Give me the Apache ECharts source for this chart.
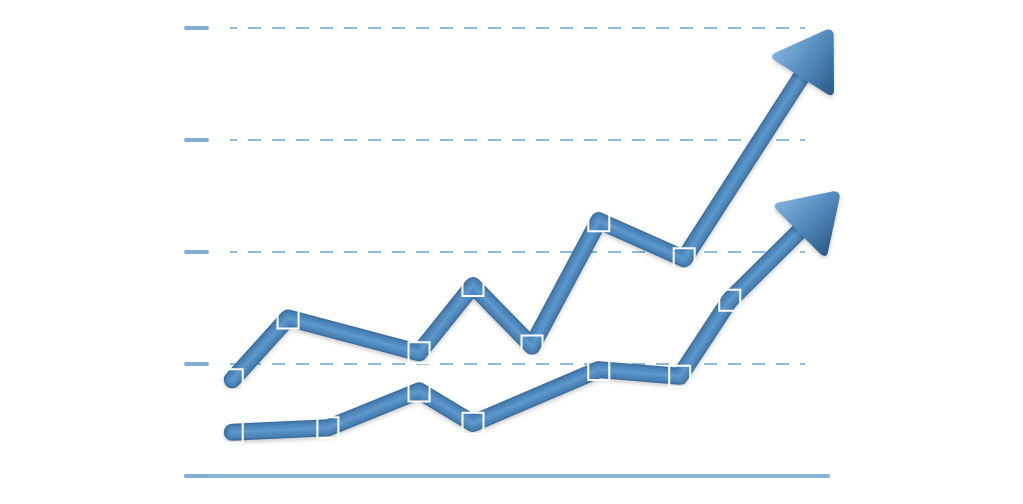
<!DOCTYPE html>
<html lang="en">
<head>
<meta charset="UTF-8">
<title>Rising lines</title>
<script src="https://cdn.jsdelivr.net/npm/echarts@6.0.0/dist/echarts.min.js"></script>
<style>html,body{margin:0;background:#fff}</style>
</head>
<body>
<div id="main" style="width:1023px;height:504px;"></div>
<script>
// x positions on a 0..100 axis, the last entry of each list is the arrow tip
const upperX = [7.2, 15.9, 36.3, 44.7, 53.9, 64.3, 77.6, 100.5];
const upperY = [0.86, 1.41, 1.10, 1.70, 1.16, 2.28, 1.94, 3.98];
const lowerX = [7.2, 22.1, 36.3, 44.7, 64.3, 76.9, 84.7, 101.6];
const lowerY = [0.39, 0.43, 0.76, 0.47, 0.95, 0.89, 1.57, 2.53];
const levels = [0, 1, 2, 3, 4];

const HEAD_LEN = 56;
const HEAD_W = 72;
// rounded triangle pointing up
const HEAD_PATH = 'path://M44,5 Q50,-3 56,5 L98,88 Q103,100 90,100 L10,100 Q-3,100 2,88 Z';
const layers = [
    {w: 17, c: '#3c6f9f'},
    {w: 14, c: '#4880b4'},
    {w: 10, c: '#4f88bc'},
    {w: 6, c: '#5690c4'},
    {w: 2, c: '#5e99cb'}
];

let myChart = echarts.init(document.getElementById('main'));

let options = {
    animation: false,
    backgroundColor: '#fff',
    grid: [
        {left: 230, right: 218, top: 28, bottom: 140},
        {left: 186, right: 195, top: 28, bottom: 28}
    ],
    xAxis: [
        {gridIndex: 0, type: 'value', min: 0, max: 100, show: false},
        {
            gridIndex: 1, type: 'value', min: 0, max: 100,
            axisLine: {show: true, lineStyle: {color: '#88b4d8', width: 4}},
            axisTick: {show: false}, axisLabel: {show: false}, splitLine: {show: false}
        }
    ],
    yAxis: [
        {
            gridIndex: 0, type: 'value', min: levels[1], max: levels[levels.length - 1], interval: 1,
            axisLine: {show: false}, axisTick: {show: false}, axisLabel: {show: false},
            splitLine: {show: true, lineStyle: {color: '#8dbbe0', width: 2, type: [13, 11], dashOffset: 6}}
        },
        {
            gridIndex: 1, type: 'value', min: levels[0], max: levels[levels.length - 1], interval: 1,
            axisLine: {show: false}, axisLabel: {show: false}, splitLine: {show: false},
            axisTick: {show: true, inside: true, length: 21, lineStyle: {color: '#82b0d4', width: 4, cap: 'round'}}
        }
    ],
    series: []
};

myChart.setOption(options);

function buildLine(xs, ys) {
    const n = xs.length;
    const tip = myChart.convertToPixel({gridIndex: 1}, [xs[n - 1], ys[n - 1]]);
    const prev = myChart.convertToPixel({gridIndex: 1}, [xs[n - 2], ys[n - 2]]);
    let dx = tip[0] - prev[0], dy = tip[1] - prev[1];
    const len = Math.hypot(dx, dy);
    dx /= len; dy /= len;
    const base = myChart.convertFromPixel({gridIndex: 1}, [tip[0] - dx * (HEAD_LEN - 6), tip[1] - dy * (HEAD_LEN - 6)]);
    const mid = myChart.convertFromPixel({gridIndex: 1}, [tip[0] - dx * HEAD_LEN / 2, tip[1] - dy * HEAD_LEN / 2]);
    const rot = Math.atan2(-dy, dx) * 180 / Math.PI - 90;

    const pts = [];
    for (let i = 0; i < n - 1; i++) pts.push([xs[i], ys[i]]);
    const linePts = pts.concat([base]);

    const out = [];
    layers.forEach((l, i) => {
        out.push({
            type: 'line', xAxisIndex: 1, yAxisIndex: 1, data: linePts, z: 2,
            showSymbol: false, clip: false, silent: true,
            lineStyle: Object.assign({width: l.w, color: l.c, cap: 'round', join: 'round'},
                i === 0 ? {shadowColor: 'rgba(0,0,0,0.22)', shadowBlur: 4, shadowOffsetY: 2} : {})
        });
    });
    out.push({
        type: 'scatter', xAxisIndex: 1, yAxisIndex: 1, data: [mid], clip: false, silent: true, z: 3,
        symbol: HEAD_PATH, symbolSize: [HEAD_W, HEAD_LEN], symbolRotate: rot,
        itemStyle: {
            opacity: 1,
            color: new echarts.graphic.LinearGradient(0, 0, 1, 0, [
                {offset: 0, color: '#80b1da'},
                {offset: 0.5, color: '#5189bc'},
                {offset: 1, color: '#2c5b87'}
            ]),
            shadowColor: 'rgba(0,0,0,0.2)', shadowBlur: 4, shadowOffsetY: 2
        }
    });
    out.push({
        type: 'scatter', xAxisIndex: 1, yAxisIndex: 1, data: pts, clip: false, silent: true, z: 5,
        symbol: 'rect', symbolSize: 21,
        itemStyle: {opacity: 1, color: 'transparent', borderColor: '#ffffff', borderWidth: 2}
    });
    return out;
}

options.series = buildLine(upperX, upperY).concat(buildLine(lowerX, lowerY));
myChart.setOption(options);
</script>
</body>
</html>
